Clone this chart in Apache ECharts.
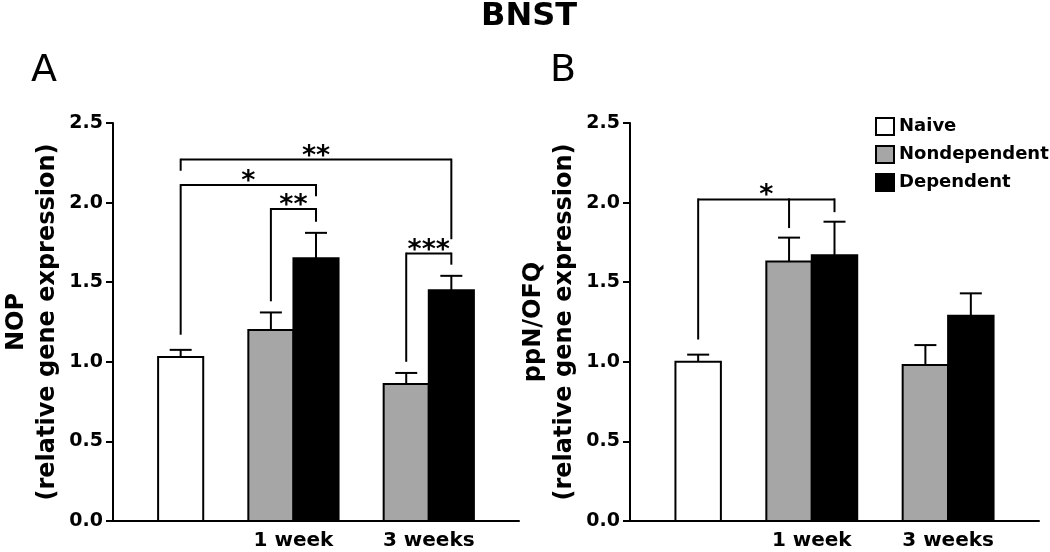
<!DOCTYPE html>
<html>
<head>
    <meta charset="utf-8" />
    <title>BNST</title>
    <script src="https://cdn.jsdelivr.net/npm/echarts@6/dist/echarts.min.js"></script>
    <style>
        * { margin: 0; padding: 0; box-sizing: border-box }
        body { background: #fff }
        #chart { width: 1050px; height: 552px }
    </style>
</head>
<body>
    <div id="chart"></div>
    <script>
        // groups on the x axis (naive has no label)
        const groups = ['1 week', '3 weeks'];
        const seriesNames = ['Naive', 'Nondependent', 'Dependent'];
        const yTicks = ['0.0', '0.5', '1.0', '1.5', '2.0', '2.5'];

        // A: NOP
        const nopNaive = [1.03];
        const nopNaiveErr = [0.045];
        const nopNondep = [1.20, 0.86];
        const nopNondepErr = [0.11, 0.07];
        const nopDep = [1.65, 1.45];
        const nopDepErr = [0.16, 0.09];

        // B: ppN/OFQ
        const ppnNaive = [1.00];
        const ppnNaiveErr = [0.045];
        const ppnNondep = [1.63, 0.98];
        const ppnNondepErr = [0.15, 0.125];
        const ppnDep = [1.67, 1.29];
        const ppnDepErr = [0.21, 0.14];

        // significance brackets: legs [bar, y where leg ends], top = y of the bar line
        const nopBrackets = [
            { legs: [['naive', 2.20], ['d3', 1.77]], top: 2.27, mark: '**' },
            { legs: [['naive', 1.17], ['d1', 2.04]], top: 2.11, mark: '*' },
            { legs: [['nd1', 1.38], ['d1', 1.88]], top: 1.96, mark: '**' },
            { legs: [['nd3', 1.00], ['d3', 1.61]], top: 1.68, mark: '***' }
        ];
        const ppnBrackets = [
            { legs: [['naive', 1.14], ['nd1', 1.84], ['d1', 1.94]], top: 2.02, mark: '*' }
        ];

        // slot of every bar on the x axis (1 unit = one bar width)
        const slot = { naive: 1.5, nd1: 3.5, d1: 4.5, nd3: 6.5, d3: 7.5 };
        const groupCenter = i => 4 + 3 * i;

        const FONT = 'DejaVu Sans';
        const colors = ['#ffffff', '#a6a6a6', '#000000'];

        function barRender(params, api) {
            const x = api.value(0), y = api.value(1), e = api.value(2);
            const tl = api.coord([x - 0.5, y]);
            const br = api.coord([x + 0.5, 0]);
            const top = api.coord([x, y + e]);
            const cx = (tl[0] + br[0]) / 2;
            return {
                type: 'group',
                children: [
                    { type: 'line', shape: { x1: cx, y1: tl[1], x2: cx, y2: top[1] }, style: { stroke: '#000', lineWidth: 2 } },
                    { type: 'line', shape: { x1: cx - 11, y1: top[1], x2: cx + 11, y2: top[1] }, style: { stroke: '#000', lineWidth: 2 } },
                    {
                        type: 'rect',
                        shape: { x: tl[0], y: tl[1], width: br[0] - tl[0], height: br[1] - tl[1] },
                        style: { fill: api.visual('color'), stroke: '#000', lineWidth: 2 }
                    }
                ]
            };
        }

        function bracketRender(list) {
            return function (params, api) {
                const b = list[params.dataIndex];
                const xs = b.legs.map(l => slot[l[0]]);
                const x1 = Math.min(...xs), x2 = Math.max(...xs);
                const p1 = api.coord([x1, b.top]);
                const p2 = api.coord([x2, b.top]);
                const children = [
                    { type: 'line', shape: { x1: p1[0], y1: p1[1], x2: p2[0], y2: p2[1] }, style: { stroke: '#000', lineWidth: 2 } }
                ];
                b.legs.forEach(l => {
                    const a = api.coord([slot[l[0]], b.top]);
                    const c = api.coord([slot[l[0]], l[1]]);
                    children.push({ type: 'line', shape: { x1: a[0], y1: a[1] - 1, x2: c[0], y2: c[1] }, style: { stroke: '#000', lineWidth: 2 } });
                });
                children.push({
                    type: 'text',
                    style: {
                        x: (p1[0] + p2[0]) / 2, y: p1[1] - 3,
                        text: b.mark, fill: '#000',
                        font: 'bold 27px "' + FONT + '"',
                        align: 'center', verticalAlign: 'middle'
                    }
                });
                return { type: 'group', children: children };
            };
        }

        function panelSeries(idx, naive, naiveErr, nondep, nondepErr, dep, depErr, brackets) {
            const sets = [
                naive.map((v, i) => [slot.naive, v, naiveErr[i]]),
                nondep.map((v, i) => [groupCenter(i) - 0.5, v, nondepErr[i]]),
                dep.map((v, i) => [groupCenter(i) + 0.5, v, depErr[i]])
            ];
            const out = sets.map((data, k) => ({
                name: seriesNames[k],
                type: 'custom',
                xAxisIndex: idx,
                yAxisIndex: idx,
                renderItem: barRender,
                itemStyle: { color: colors[k], borderColor: '#000', borderWidth: 2 },
                encode: { x: 0, y: 1 },
                data: data,
                silent: true
            }));
            out.push({
                type: 'custom',
                xAxisIndex: idx,
                yAxisIndex: idx,
                renderItem: bracketRender(brackets),
                encode: { x: 0, y: 1 },
                data: brackets.map(b => [slot.naive, b.top]),
                silent: true,
                z: 5
            });
            return out;
        }

        function xAxis(idx) {
            return {
                type: 'value',
                gridIndex: idx,
                min: 0,
                max: 9,
                interval: 1,
                splitLine: { show: false },
                axisTick: { show: false },
                axisLine: { lineStyle: { color: '#000', width: 2 } },
                axisLabel: {
                    margin: 10,
                    color: '#000',
                    fontFamily: FONT,
                    fontWeight: 'bold',
                    fontSize: 20,
                    formatter: v => {
                        const i = groups.findIndex((g, k) => groupCenter(k) === v);
                        return i < 0 ? '' : groups[i];
                    }
                }
            };
        }

        function yAxis(idx, name) {
            return {
                type: 'value',
                gridIndex: idx,
                min: 0,
                max: 2.5,
                interval: 0.5,
                name: name,
                nameLocation: 'middle',
                nameGap: 50,
                nameRotate: 90,
                nameTextStyle: { color: '#000', fontFamily: FONT, fontWeight: 'bold', fontSize: 24, lineHeight: 31 },
                splitLine: { show: false },
                axisLine: { show: true, lineStyle: { color: '#000', width: 2 } },
                axisTick: { show: true, length: 7, lineStyle: { color: '#000', width: 2 } },
                axisLabel: {
                    margin: 10,
                    color: '#000',
                    fontFamily: FONT,
                    fontWeight: 'bold',
                    fontSize: 19,
                    formatter: v => yTicks[Math.round(v / 0.5)]
                }
            };
        }

        const chart = echarts.init(document.getElementById('chart'));
        chart.setOption({
            animation: false,
            title: [
                { text: 'BNST', left: 476, top: -4, textStyle: { fontFamily: FONT, fontWeight: 'bold', fontSize: 32, color: '#000' } },
                { text: 'A', left: 26, top: 47, textStyle: { fontFamily: FONT, fontWeight: 'normal', fontSize: 38, color: '#000' } },
                { text: 'B', left: 545, top: 47, textStyle: { fontFamily: FONT, fontWeight: 'normal', fontSize: 38, color: '#000' } }
            ],
            legend: {
                orient: 'vertical',
                left: 870,
                top: 112,
                itemWidth: 18,
                itemHeight: 17,
                itemGap: 9,
                selectedMode: false,
                textStyle: { fontFamily: FONT, fontWeight: 'bold', fontSize: 18, color: '#000' },
                data: seriesNames.map((n, k) => ({
                    name: n,
                    icon: 'rect',
                    itemStyle: { color: colors[k], borderColor: '#000', borderWidth: 2 }
                }))
            },
            grid: [
                { left: 110, top: 123, width: 409, height: 398 },
                { left: 630, top: 123, width: 409, height: 398 }
            ],
            xAxis: [xAxis(0), xAxis(1)],
            yAxis: [
                yAxis(0, 'NOP\n(relative gene expression)'),
                yAxis(1, 'ppN/OFQ\n(relative gene expression)')
            ],
            series: [
                ...panelSeries(0, nopNaive, nopNaiveErr, nopNondep, nopNondepErr, nopDep, nopDepErr, nopBrackets),
                ...panelSeries(1, ppnNaive, ppnNaiveErr, ppnNondep, ppnNondepErr, ppnDep, ppnDepErr, ppnBrackets)
            ]
        });
    </script>
</body>
</html>
